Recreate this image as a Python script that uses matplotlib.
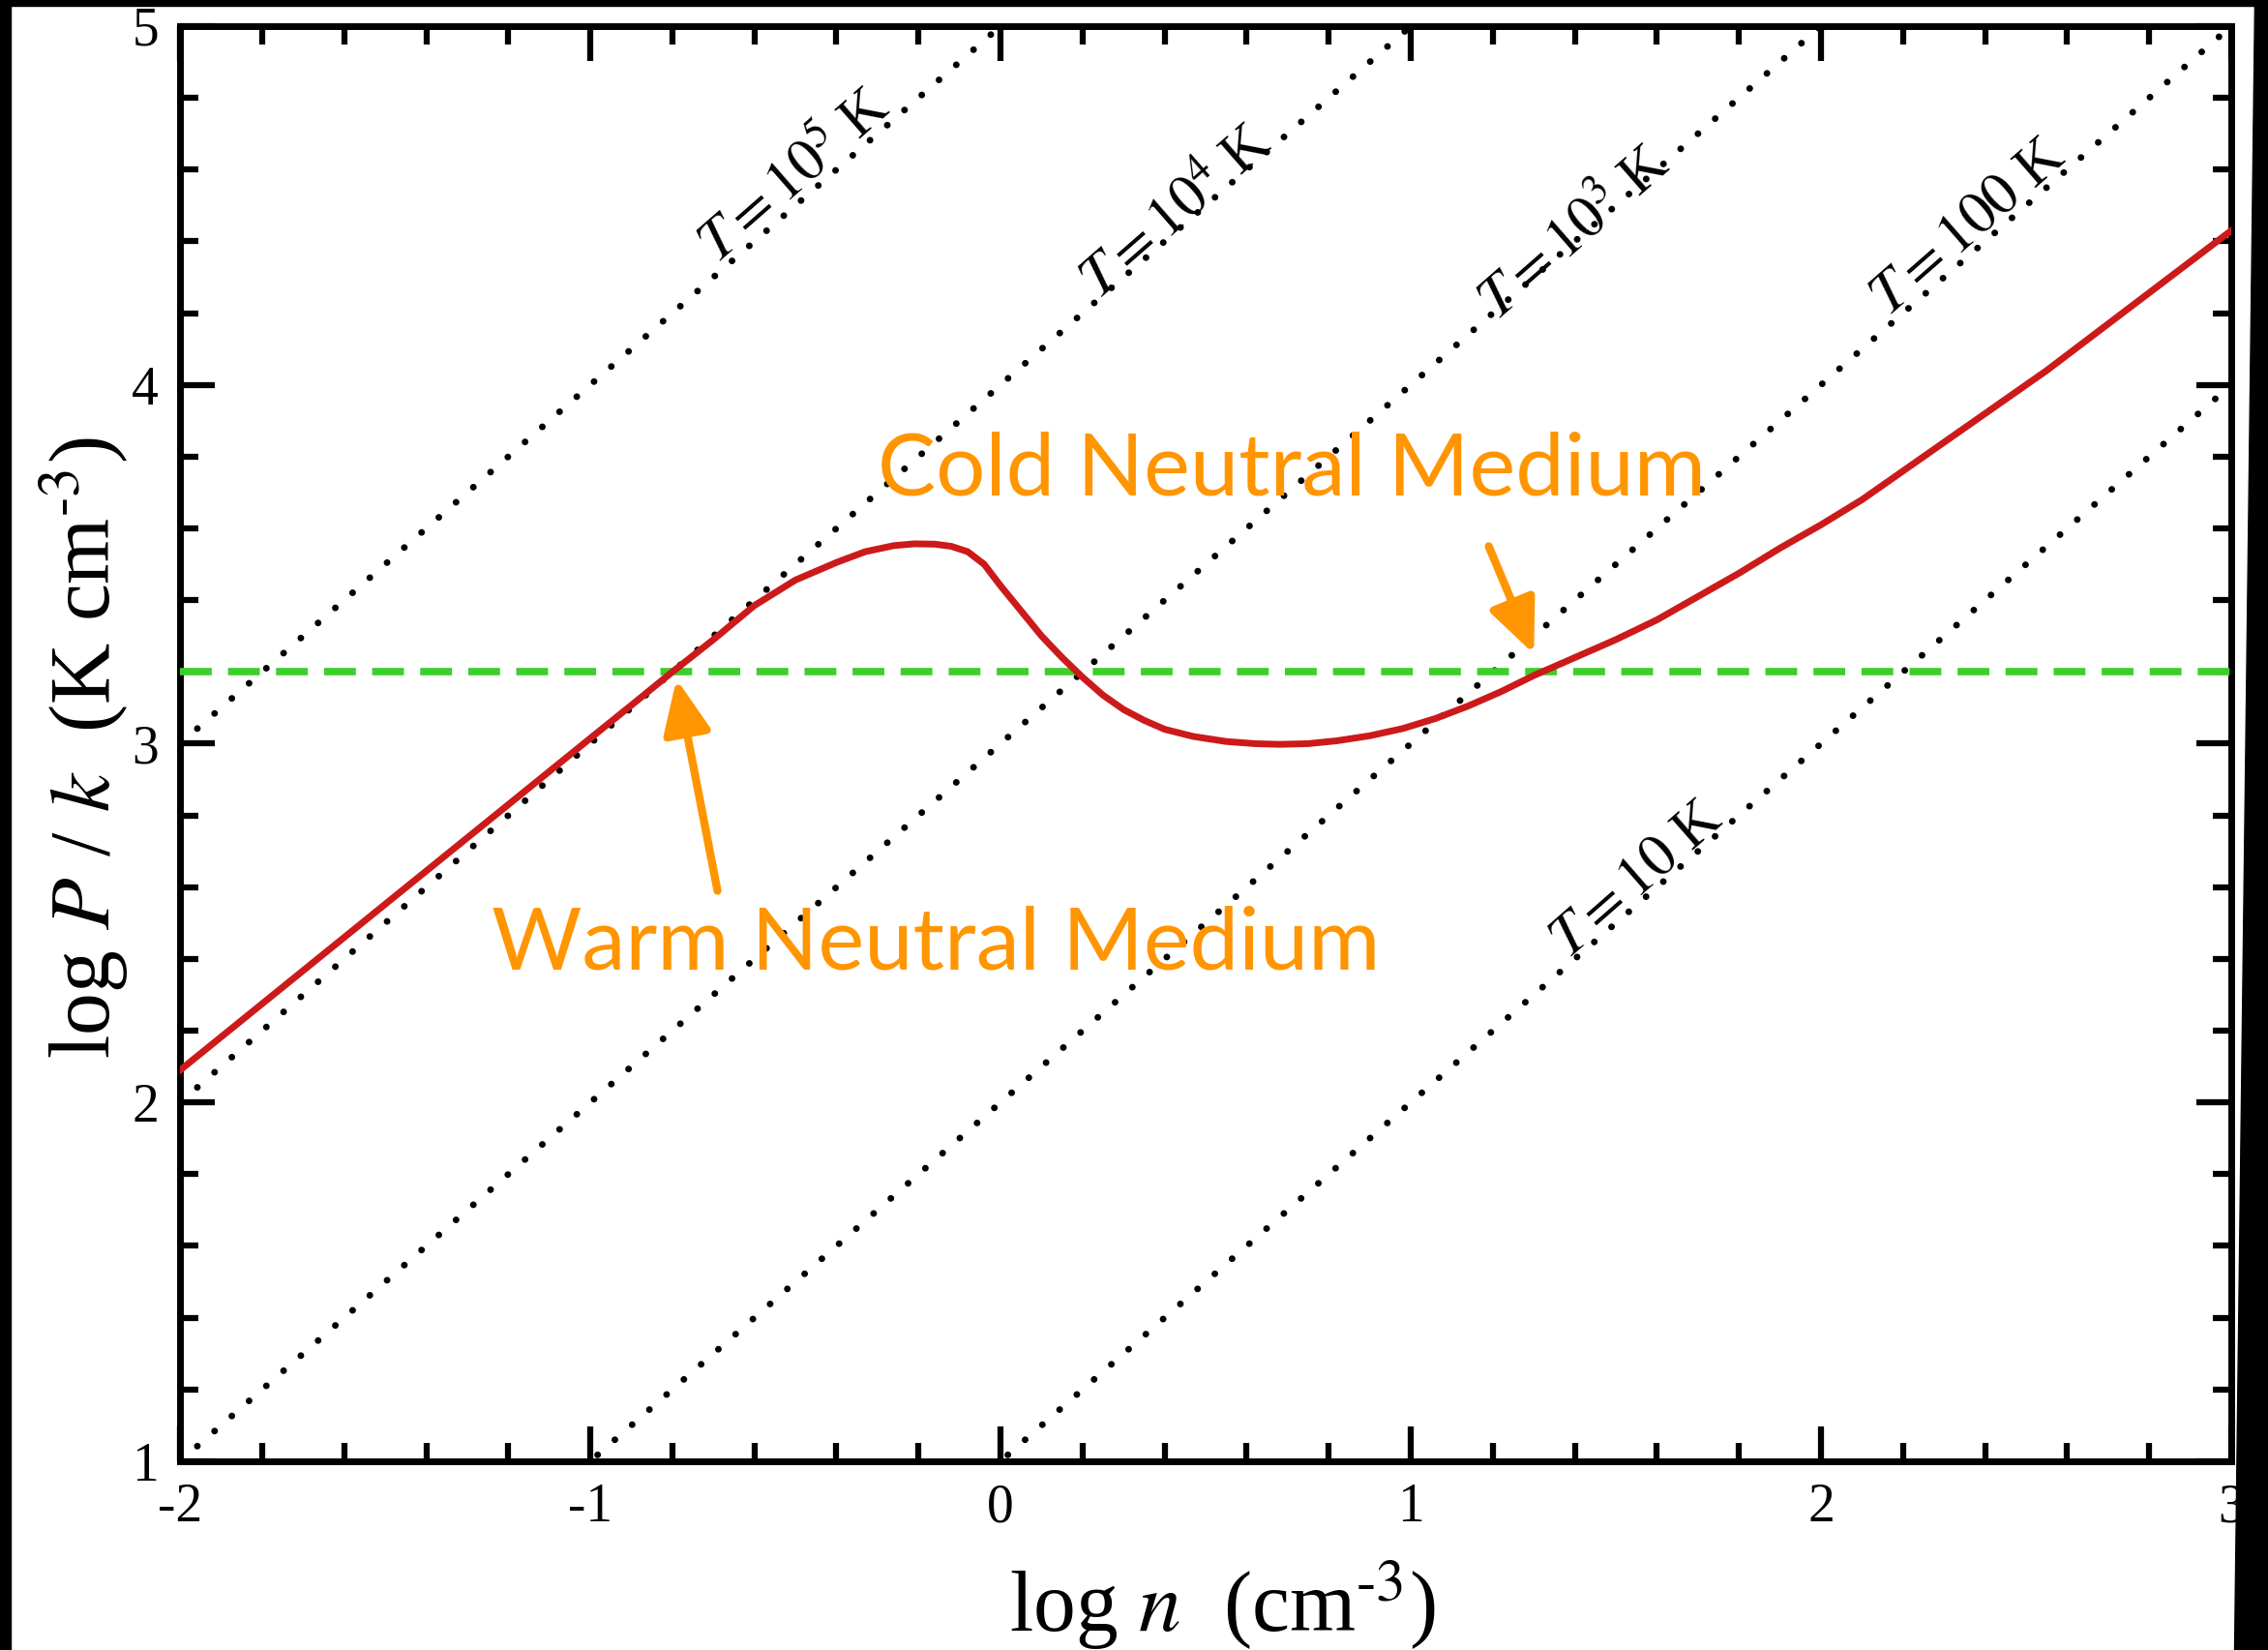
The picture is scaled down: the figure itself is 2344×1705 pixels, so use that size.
import numpy as np
import matplotlib
matplotlib.use('Agg')
import matplotlib.pyplot as plt
from matplotlib.patches import Polygon, Rectangle

plt.rcParams['font.family'] = ['Liberation Serif', 'DejaVu Serif']
plt.rcParams['mathtext.fontset'] = 'stix'
plt.rcParams['axes.unicode_minus'] = False

# red equilibrium curve
log_n = [-2.0, -1.8, -1.6, -1.4, -1.2, -1.0, -0.9, -0.8, -0.7, -0.6, -0.5, -0.4,
         -0.33, -0.26, -0.21, -0.16, -0.12, -0.08, -0.04, 0.0, 0.05, 0.1, 0.15,
         0.2, 0.25, 0.3, 0.35, 0.4, 0.47, 0.55, 0.62, 0.68, 0.75, 0.82, 0.9, 0.98,
         1.06, 1.14, 1.22, 1.3, 1.4, 1.5, 1.6, 1.7, 1.8, 1.9, 2.0, 2.1, 2.25, 2.4,
         2.55, 2.7, 2.85, 3.0]
log_p = [2.09, 2.275, 2.46, 2.645, 2.83, 3.015, 3.107, 3.2, 3.29, 3.385, 3.456, 3.505,
         3.535, 3.552, 3.557, 3.556, 3.55, 3.535, 3.50, 3.44, 3.37, 3.30, 3.24,
         3.185, 3.135, 3.095, 3.065, 3.04, 3.02, 3.006, 3.0, 2.998, 3.0, 3.008, 3.022, 3.042,
         3.07, 3.105, 3.145, 3.19, 3.24, 3.29, 3.345, 3.41, 3.475, 3.545, 3.61, 3.68, 3.80, 3.92,
         4.04, 4.17, 4.30, 4.43]

# isotherms and their labels
iso_logT = [5, 4, 3, 2, 1]
iso_labels = [r'$T = 10^5$ K', r'$T = 10^4$ K', r'$T = 10^3$ K', r'$T = 100$ K', r'$T = 10$ K']
iso_label_x = [-0.50, 0.43, 1.40, 2.36, 1.55]
iso_label_y = [4.58, 4.48, 4.42, 4.44, 2.62]

p_const = 3.2
x_range = [-2, 3]

fig = plt.figure(figsize=(23.44, 17.05), dpi=100)
ax = fig.add_axes([0.0794, 0.1144, 0.9044, 0.8698])

ax.set_xlim(-2, 3)
ax.set_ylim(1, 5)

for lt in iso_logT:
    xs = np.array(x_range, dtype=float)
    ax.plot(xs, xs + lt, color='black', lw=5,
            linestyle=(0, (0.01, 3.4)), dash_capstyle='round', zorder=2)

ax.axhline(p_const, color='#3ccf2a', lw=5.5, linestyle=(0, (4.3, 2.2)), zorder=3)
ax.plot(log_n, log_p, color='#cc1a1a', lw=5, zorder=4, solid_joinstyle='round')

# text along the isotherms
p1 = ax.transData.transform((0, 0))
p2 = ax.transData.transform((1, 1))
ang = np.degrees(np.arctan2(p2[1] - p1[1], p2[0] - p1[0]))
for lab, tx, ty in zip(iso_labels, iso_label_x, iso_label_y):
    ax.text(tx, ty, lab, rotation=ang, rotation_mode='anchor', ha='center',
            va='center', fontsize=44, zorder=5)

orange = '#ff9500'
arrow_kw = dict(arrowstyle='-|>,head_length=1.7,head_width=0.75', color=orange,
                lw=6, shrinkA=0, shrinkB=0, mutation_scale=20)
ax.annotate('', xy=(-0.79, 3.18), xytext=(-0.69, 2.59), arrowprops=arrow_kw, zorder=6)
ax.annotate('', xy=(1.30, 3.25), xytext=(1.19, 3.55), arrowprops=arrow_kw, zorder=6)
ax.text(-1.24, 2.44, 'Warm Neutral Medium', color=orange, fontsize=65,
        family=['Lato', 'DejaVu Sans'], ha='left', va='center', zorder=6)
ax.text(-0.30, 3.76, 'Cold Neutral Medium', color=orange, fontsize=65,
        family=['Lato', 'DejaVu Sans'], ha='left', va='center', zorder=6)

ax.set_xticks([-2, -1, 0, 1, 2, 3])
ax.set_yticks([1, 2, 3, 4, 5])
ax.set_xticks(np.arange(-2, 3.01, 0.2), minor=True)
ax.set_yticks(np.arange(1, 5.01, 0.2), minor=True)
ax.tick_params(which='both', direction='in', top=True, right=True, width=4.5,
               labelsize=40, pad=16)
ax.tick_params(which='major', length=26)
ax.tick_params(which='minor', length=14)
for s in ax.spines.values():
    s.set_linewidth(5)

ax.set_xlabel(r'log $n$  (cm$^{\text{-3}}$)', fontsize=63)
ax.set_ylabel(r'log $P$ / $k$  (K cm$^{\text{-3}}$)', fontsize=63)
ax.xaxis.set_label_coords(0.508, -0.068)
ax.yaxis.set_label_coords(-0.024, 0.497)

# black frame at the image edges
fig.patches.append(Rectangle((0, 0), 11 / 2344, 1, transform=fig.transFigure,
                             color='black', zorder=10))
fig.patches.append(Rectangle((0, 1 - 6 / 1705), 1, 6 / 1705, transform=fig.transFigure,
                             color='black', zorder=10))
fig.patches.append(Polygon([(2330 / 2344, 1), (1, 1), (1, 0), (2309 / 2344, 0)],
                           closed=True, transform=fig.transFigure, color='black', zorder=10))

fig.savefig('out.png', dpi=100, facecolor='white')
